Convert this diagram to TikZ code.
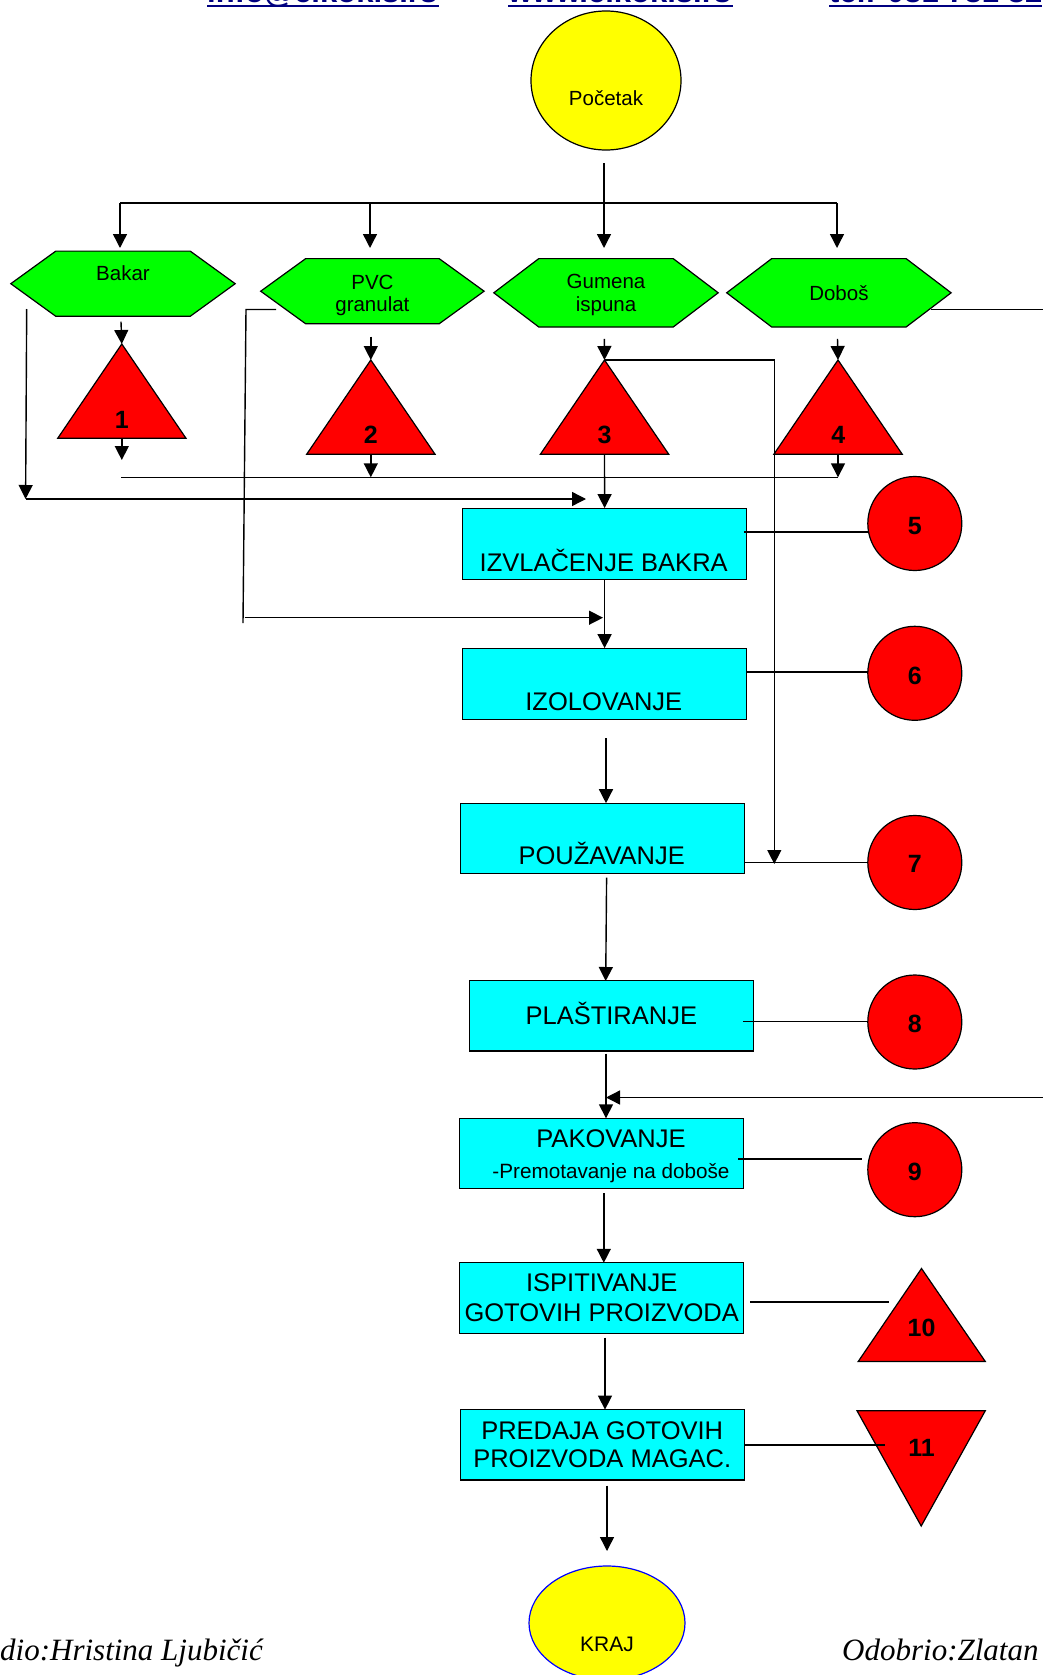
\documentclass[tikz,border=0pt]{standalone}
\usepackage{fontspec}
\setmainfont{Liberation Sans}
\newfontfamily\sigfont{Liberation Serif}
\usetikzlibrary{arrows.meta,shapes.geometric}
\definecolor{hexgreen}{RGB}{0,255,0}
\definecolor{shred}{RGB}{255,0,0}
\definecolor{boxcyan}{RGB}{0,255,255}
\definecolor{ovyellow}{RGB}{255,255,0}
\definecolor{linkblue}{RGB}{0,0,128}
\tikzset{
  shapeline/.style={draw=black, line width=1.2pt, line join=miter},
  hexstyle/.style={shapeline, fill=hexgreen},
  tristyle/.style={shapeline, fill=shred},
  boxstyle/.style={shapeline, fill=boxcyan, rectangle, minimum width=284pt, minimum height=70.5pt, inner sep=0pt},
  circstyle/.style={shapeline, fill=shred, ellipse, minimum width=94pt, minimum height=94pt, inner sep=0pt},
  conn/.style={draw=black, line width=1.4pt},
  arr/.style={conn, -{Triangle[length=14pt,width=14pt]}},
  boxtext/.style={font=\fontsize{25.5}{30}\selectfont, anchor=base, inner sep=0pt},
  smalltext/.style={font=\fontsize{20.7}{25}\selectfont, anchor=base, inner sep=0pt},
  hextext/.style={font=\fontsize{20.5}{24}\selectfont, anchor=base, inner sep=0pt},
  numtext/.style={font=\fontsize{25}{30}\selectfont\bfseries, anchor=base, inner sep=0pt},
  hdrtext/.style={font=\fontsize{31}{36}\selectfont\bfseries, text=linkblue, anchor=base west, inner sep=0pt},
  hdrline/.style={draw=linkblue, line width=2pt},
  sigtext/.style={font=\sigfont\itshape\fontsize{31}{36}\selectfont, anchor=base west, inner sep=0pt},
}
\begin{document}
\begin{tikzpicture}[x=1pt,y=-1pt]
\useasboundingbox[fill=white] (0,0) rectangle (1042,1675);

% ---------- header (cut at top, as in the reference) ----------
\node[hdrtext] (info) at (207,3) {info@elkokis.rs};
\node[hdrtext] (www) at (508,3) {www.elkokis.rs};
\node[hdrtext] (tel) at (829,3) {tel: 031 781 322};
\coordinate (u1a) at (207,6); \coordinate (u1b) at (439,6);
\coordinate (u2a) at (508,6); \coordinate (u2b) at (733,6);
\coordinate (u3a) at (829,6); \coordinate (u3b) at (1042,6);
\draw[hdrline] (u1a) -- (u1b);
\draw[hdrline] (u2a) -- (u2b);
\draw[hdrline] (u3a) -- (u3b);

% ---------- start / end ----------
\node[shapeline, fill=ovyellow, ellipse, minimum width=150pt, minimum height=139pt, inner sep=0pt] (start) at (606,80.5) {};
\node[shapeline, draw=blue, fill=ovyellow, ellipse, minimum width=156pt, minimum height=114pt, inner sep=0pt] (kraj) at (607,1623) {};

% ---------- hexagons ----------
\draw[hexstyle] (10.8,283.7) -- (55.8,251.1) -- (190.2,251.1) -- (235.2,283.7) -- (190.2,316.3) -- (55.8,316.3) -- cycle;
\draw[hexstyle] (260.7,291.2) -- (305.7,258.6) -- (439.1,258.6) -- (484.1,291.2) -- (439.1,323.8) -- (305.7,323.8) -- cycle;
\draw[hexstyle] (493.8,292.8) -- (538.8,258.6) -- (673.2,258.6) -- (718.2,292.8) -- (673.2,327) -- (538.8,327) -- cycle;
\draw[hexstyle] (726.7,292.8) -- (771.7,258.6) -- (906.1,258.6) -- (951.1,292.8) -- (906.1,327) -- (771.7,327) -- cycle;

% ---------- triangles ----------
\draw[tristyle] (121.8,344) -- (186,438.3) -- (57.7,438.3) -- cycle;
\draw[tristyle] (370.8,360) -- (435,454.2) -- (306.7,454.2) -- cycle;
\draw[tristyle] (604.5,360) -- (668.7,454.2) -- (540.4,454.2) -- cycle;
\draw[tristyle] (838,360) -- (902.2,454.2) -- (773.9,454.2) -- cycle;
\draw[tristyle] (921.5,1268.5) -- (985.3,1361.5) -- (858.2,1361.5) -- cycle;
\draw[tristyle] (857,1410.7) -- (985.3,1410.7) -- (921.2,1526) -- cycle;

% ---------- boxes ----------
\node[boxstyle] (b1) at (604.6,543.9) {};
\node[boxstyle] (b2) at (604.6,684) {};
\node[boxstyle] (b3) at (602.5,838.5) {};
\node[boxstyle] (b4) at (611.2,1015.8) {};
\node[boxstyle] (b5) at (601.3,1153.5) {};
\node[boxstyle] (b6) at (601.1,1298) {};
\node[boxstyle] (b7) at (602.5,1444.8) {};

% ---------- circles ----------
\node[circstyle] (c5) at (914.8,523.5) {};
\node[circstyle] (c6) at (914.8,673.3) {};
\node[circstyle] (c7) at (914.8,862.5) {};
\node[circstyle] (c8) at (914.8,1022) {};
\node[circstyle] (c9) at (914.8,1169.7) {};

% ---------- connector points ----------
\coordinate (s0) at (604,163);
\coordinate (s1) at (604,248);
\coordinate (barL) at (120,203);
\coordinate (barR) at (837,203);
\coordinate (bar2) at (370,203);
\coordinate (h1) at (120,248);
\coordinate (h2) at (370,248);
\coordinate (h4) at (837,248);

\coordinate (a1s) at (121,321.7); \coordinate (a1e) at (121.8,344);
\coordinate (a2s) at (370.8,336.7); \coordinate (a2e) at (370.8,360);
\coordinate (a3s) at (604.3,338.8); \coordinate (a3e) at (604.5,360);
\coordinate (a4s) at (837.5,338.8); \coordinate (a4e) at (838,360);

\coordinate (t1s) at (121.8,438.3); \coordinate (t1e) at (121.8,460);
\coordinate (t2s) at (370.8,454.2); \coordinate (t2e) at (370.8,477.3);
\coordinate (t4s) at (838,454.2); \coordinate (t4e) at (838,477.3);
\coordinate (jL) at (121,477.3);
\coordinate (t3s) at (604.5,454.2);

\coordinate (bk1) at (26.7,309); \coordinate (bk2) at (25.6,499); \coordinate (bk3) at (586,499);
\coordinate (pv1) at (276,309.5); \coordinate (pv2) at (246,309.5); \coordinate (pv3) at (243,623);
\coordinate (pv4) at (244.5,617.7); \coordinate (pv5) at (603,617.7);
\coordinate (g1) at (774.3,360); \coordinate (g2) at (774.3,864);
\coordinate (d1) at (931,309.5); \coordinate (d2) at (1050,309.5);
\coordinate (d3) at (1050,1097.5); \coordinate (d4) at (606,1097.5);

\coordinate (m2s) at (606,738); \coordinate (m2e) at (606,803.2);
\coordinate (m3s) at (606.6,877.7); \coordinate (m3e) at (605.7,981);
\coordinate (m4s) at (606,1053.5); \coordinate (m4e) at (606,1118.3);
\coordinate (m5s) at (603.8,1193.3); \coordinate (m5e) at (603.8,1262.8);
\coordinate (m6s) at (605,1337.5); \coordinate (m6e) at (605,1409.6);
\coordinate (m7s) at (607,1485.6); \coordinate (m7e) at (607,1551);

\coordinate (l5a) at (744,532); \coordinate (l5b) at (868.6,532);
\coordinate (l6a) at (746,672); \coordinate (l6b) at (868,672);
\coordinate (l7a) at (744.5,862.3); \coordinate (l7b) at (868,862.3);
\coordinate (l8a) at (743.4,1021.7); \coordinate (l8b) at (868,1021.7);
\coordinate (l9a) at (738,1159); \coordinate (l9b) at (862,1159);
\coordinate (l10a) at (750,1302); \coordinate (l10b) at (889,1302);
\coordinate (l11a) at (744.5,1445); \coordinate (l11b) at (885,1445);

% ---------- connectors ----------
\draw[arr] (s0) -- (s1);
\draw[conn] (barL) -- (barR);
\draw[arr] (barL) -- (h1);
\draw[arr] (bar2) -- (h2);
\draw[arr] (barR) -- (h4);

\draw[arr] (a1s) -- (a1e);
\draw[arr] (a2s) -- (a2e);
\draw[arr] (a3s) -- (a3e);
\draw[arr] (a4s) -- (a4e);

\draw[arr] (t1s) -- (t1e);
\draw[conn] (jL) -- (t4e);
\draw[arr] (t2s) -- (t2e);
\draw[arr] (t4s) -- (t4e);
\draw[arr] (t3s) -- (b1.north);

\draw[arr] (bk1) -- (bk2);
\draw[arr] (bk2) -- (bk3);
\draw[conn] (pv1) -- (pv2) -- (pv3);
\draw[arr] (pv4) -- (pv5);
\draw[arr] (a3e) -- (g1) -- (g2);
\draw[conn] (d1) -- (d2);
\draw[arr] (d3) -- (d4);

\draw[arr] (b1.south) -- (b2.north);
\draw[arr] (m2s) -- (m2e);
\draw[arr] (m3s) -- (m3e);
\draw[arr] (m4s) -- (m4e);
\draw[arr] (m5s) -- (m5e);
\draw[arr] (m6s) -- (m6e);
\draw[arr] (m7s) -- (m7e);

\draw[conn] (l5a) -- (l5b);
\draw[conn] (l6a) -- (l6b);
\draw[conn] (l7a) -- (l7b);
\draw[conn] (l8a) -- (l8b);
\draw[conn] (l9a) -- (l9b);
\draw[conn] (l10a) -- (l10b);
\draw[conn] (l11a) -- (l11b);

% ---------- texts ----------
\node[hextext] (startt) at (606,105.5) {Početak};
\node[hextext, font=\fontsize{21}{25}\selectfont] (krajt) at (607,1651) {KRAJ};

\node[hextext] (hx1) at (123,280) {Bakar};
\node[hextext] (hx2a) at (372.4,289) {PVC};
\node[hextext] (hx2b) at (372.4,311.7) {granulat};
\node[hextext] (hx3a) at (606,288.3) {Gumena};
\node[hextext] (hx3b) at (606,311.7) {ispuna};
\node[hextext] (hx4) at (838.9,300.7) {Doboš};

\node[numtext] (n1) at (121.8,428.3) {1};
\node[numtext] (n2) at (370.8,443.3) {2};
\node[numtext] (n3) at (604.5,443) {3};
\node[numtext] (n4) at (838.4,443) {4};
\node[numtext] (n5) at (914.8,534) {5};
\node[numtext] (n6) at (914.8,684) {6};
\node[numtext] (n7) at (914.8,872.7) {7};
\node[numtext] (n8) at (914.8,1032) {8};
\node[numtext] (n9) at (914.8,1180) {9};
\node[numtext] (n10) at (921.5,1336.5) {10};
\node[numtext] (n11) at (921.5,1456.5) {11};

\node[boxtext] (b1t) at (603.7,571.7) {IZVLAČENJE BAKRA};
\node[boxtext] (b2t) at (603.8,710.7) {IZOLOVANJE};
\node[boxtext] (b3t) at (601.7,864) {POUŽAVANJE};
\node[boxtext] (b4t) at (611.3,1024.3) {PLAŠTIRANJE};
\node[boxtext] (b5t) at (611,1147.7) {PAKOVANJE};
\node[smalltext] (b5s) at (611,1178) {-Premotavanje na doboše};
\node[boxtext] (b6t) at (601.7,1291.7) {ISPITIVANJE};
\node[boxtext] (b6u) at (601.7,1321.5) {GOTOVIH PROIZVODA};
\node[boxtext] (b7t) at (602.2,1439.3) {PREDAJA GOTOVIH};
\node[boxtext] (b7u) at (602.2,1467.3) {PROIZVODA MAGAC.};

\node[sigtext] (author) at (0,1660) {dio:Hristina Ljubičić};
\node[sigtext] (approver) at (842,1660) {Odobrio:Zlatan};
\end{tikzpicture}
\end{document}
